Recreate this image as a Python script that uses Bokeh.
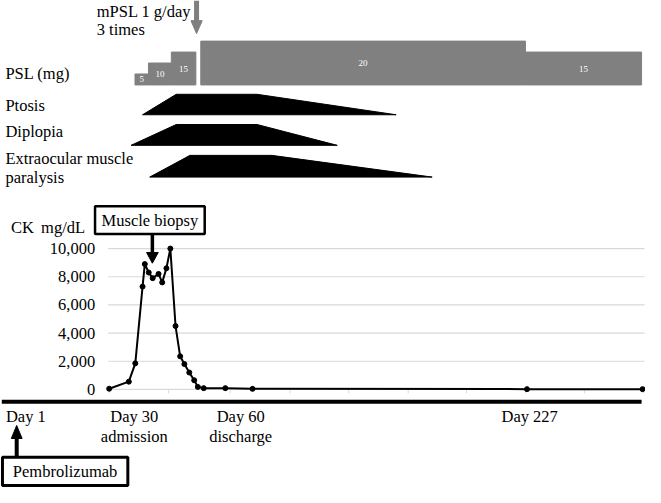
from bokeh.plotting import figure
from bokeh.models import Range1d
from bokeh.core.properties import value
from bokeh.embed import file_html
from bokeh.resources import INLINE

# ---------------- data ----------------
# CK values (mg/dL) at schematic timeline positions
ck_pos = [112.7, 132.7, 139.3, 146.7, 149.0, 153.0, 157.0, 163.0, 166.7, 171.0, 175.0,
          180.3, 185.0, 189.3, 194.3, 199.3, 203.0, 209.0, 231.0, 258.7, 538.3, 656.0]
ck_vals = [50, 550, 1850, 7300, 8900, 8300, 7900, 8200, 7600, 8600, 10000,
           4500, 2350, 1800, 1200, 650, 180, 90, 90, 40, 20, 20]
ck_ticks = [0, 2000, 4000, 6000, 8000, 10000]
ck_tick_labels = ["0", "2,000", "4,000", "6,000", "8,000", "10,000"]
cat_ticks = [112.7, 173.3, 236.0, 296.7, 356.7, 417.3, 476.7, 537.0, 596.7, 657.0]

# PSL dose segments (mg)
psl_start = [139.0, 152.7, 176.0, 206.0, 536.7]
psl_end = [152.7, 176.0, 201.0, 536.7, 655.0]
psl_dose = [5, 10, 15, 20, 15]

# symptoms (trapezoids): onset, plateau start, plateau end, resolution
sym_names = ["Ptosis", "Diplopia", "Extraocular muscle"]
sym_onset = [146.7, 135.0, 154.0]
sym_plateau_start = [181.0, 181.0, 195.0]
sym_plateau_end = [263.3, 263.3, 278.3]
sym_resolve = [405.0, 345.0, 441.7]

# timeline labels
day_labels = ["Day 1", "Day 30", "Day 60", "Day 227"]
day_sub = ["", "admission", "discharge", ""]
day_pos = [27.8, 138.3, 246.7, 541.0]

# ---------------- layout ----------------
FONT = value("Liberation Serif")
FS = value("16.5px")

p = figure(width=645, height=487, x_range=Range1d(2, 659), y_range=Range1d(502, 2),
           output_backend="svg", toolbar_location=None, min_border=0,
           x_axis_type=None, y_axis_type=None)
p.grid.visible = False
p.outline_line_color = None

# CK scale: 0 -> 401.3, 10000 -> 256.7 (layout units, inverted)
ck_zero, ck_top = 401.3, 256.7
k = (ck_zero - ck_top) / 10000.0
p.extra_y_ranges["ck"] = Range1d(start=(ck_zero - 502) / k, end=(ck_zero - 2) / k)
# PSL scale: 0 mg -> 88.7, 2.25 layout units per mg
psl_base, psl_k = 88.7, 2.25
p.extra_y_ranges["psl"] = Range1d(start=(psl_base - 502) / psl_k, end=(psl_base - 2) / psl_k)

# ---- mPSL annotation ----
p.text(x=[100, 100], y=[13.3, 32], text=["mPSL 1 g/day", "3 times"], text_font=FONT,
       text_font_size=FS, text_align="left", text_baseline="middle", text_color="black")
p.segment(x0=[201.7], y0=[2], x1=[201.7], y1=[24], line_color="#7f7f7f", line_width=5)
p.patch(x=[196.0, 207.5, 201.7], y=[22.7, 22.7, 36.0], fill_color="#7f7f7f", line_color="#7f7f7f")

# ---- PSL bars ----
p.text(x=[7], y=[76.7], text=["PSL (mg)"], text_font=FONT, text_font_size=FS,
       text_align="left", text_baseline="middle")
p.quad(left=psl_start, right=psl_end, bottom=[0] * len(psl_dose), top=psl_dose,
       y_range_name="psl", fill_color="#808080", line_color="#808080")
p.text(x=[(a + b) / 2 for a, b in zip(psl_start, psl_end)], y=[d / 2 for d in psl_dose],
       text=[str(d) for d in psl_dose], y_range_name="psl", text_font=FONT,
       text_font_size=value("9px"), text_color="white", text_align="center",
       text_baseline="middle")

# ---- symptoms ----
row_top = [98.3, 129.3, 161.0]
row_bottom = [119.3, 150.7, 183.3]
xs = [[a, b, c, d] for a, b, c, d in zip(sym_onset, sym_plateau_start, sym_plateau_end, sym_resolve)]
ys = [[bt, tp, tp, bt] for tp, bt in zip(row_top, row_bottom)]
p.patches(xs=xs, ys=ys, fill_color="black", line_color="black")
p.text(x=[7, 7, 7, 7], y=[110.0, 136.7, 164.3, 183.3],
       text=sym_names + ["paralysis"], text_font=FONT, text_font_size=FS,
       text_align="left", text_baseline="middle")

# ---- CK chart ----
gx0, gx1 = 111.7, 658.0
p.segment(x0=[gx0] * len(ck_ticks), x1=[gx1] * len(ck_ticks), y0=ck_ticks, y1=ck_ticks,
          y_range_name="ck", line_color="#d9d9d9", line_width=1.2)
p.segment(x0=cat_ticks, x1=cat_ticks, y0=[0] * len(cat_ticks), y1=[-280] * len(cat_ticks),
          y_range_name="ck", line_color="#d9d9d9", line_width=1)
p.text(x=[98.5] * len(ck_ticks), y=ck_ticks, text=ck_tick_labels, y_range_name="ck",
       text_font=FONT, text_font_size=FS, text_align="right", text_baseline="middle")
p.text(x=[12.7, 43.3], y=[234.7, 234.7], text=["CK", "mg/dL"], text_font=FONT,
       text_font_size=FS, text_align="left", text_baseline="middle")
p.line(x=ck_pos, y=ck_vals, y_range_name="ck", line_color="black", line_width=2)
p.scatter(x=ck_pos, y=ck_vals, y_range_name="ck", size=5, fill_color="black",
          line_color="black")

# muscle biopsy callout
p.quad(left=[98.3], right=[210.0], top=[213.3], bottom=[241.7], fill_color="white",
       line_color="black", line_width=2.5)
p.text(x=[154.2], y=[227.5], text=["Muscle biopsy"], text_font=FONT, text_font_size=FS,
       text_align="center", text_baseline="middle")
p.segment(x0=[156.7], y0=[242.5], x1=[156.7], y1=[262.0], line_color="black", line_width=3.5)
p.patch(x=[150.8, 162.7, 156.7], y=[260.7, 260.7, 271.7], fill_color="black", line_color="black")

# ---- timeline ----
p.segment(x0=[3.3], y0=[414.0], x1=[655.0], y1=[414.0], line_color="black", line_width=4)
p.text(x=day_pos, y=[429.3] * len(day_pos), text=day_labels, text_font=FONT,
       text_font_size=FS, text_align="center", text_baseline="middle")
p.text(x=day_pos, y=[449.3] * len(day_pos), text=day_sub, text_font=FONT,
       text_font_size=FS, text_align="center", text_baseline="middle")

# pembrolizumab callout
p.patch(x=[13.0, 24.0, 18.5], y=[451.7, 451.7, 438.3], fill_color="black", line_color="black")
p.segment(x0=[18.5], y0=[450.0], x1=[18.5], y1=[471.0], line_color="black", line_width=4)
p.quad(left=[4.0], right=[131.7], top=[471.0], bottom=[500.0], fill_color="white",
       line_color="black", line_width=3)
p.text(x=[67.8], y=[486.0], text=["Pembrolizumab"], text_font=FONT, text_font_size=FS,
       text_align="center", text_baseline="middle")

open("out.html", "w").write(file_html(p, INLINE))
